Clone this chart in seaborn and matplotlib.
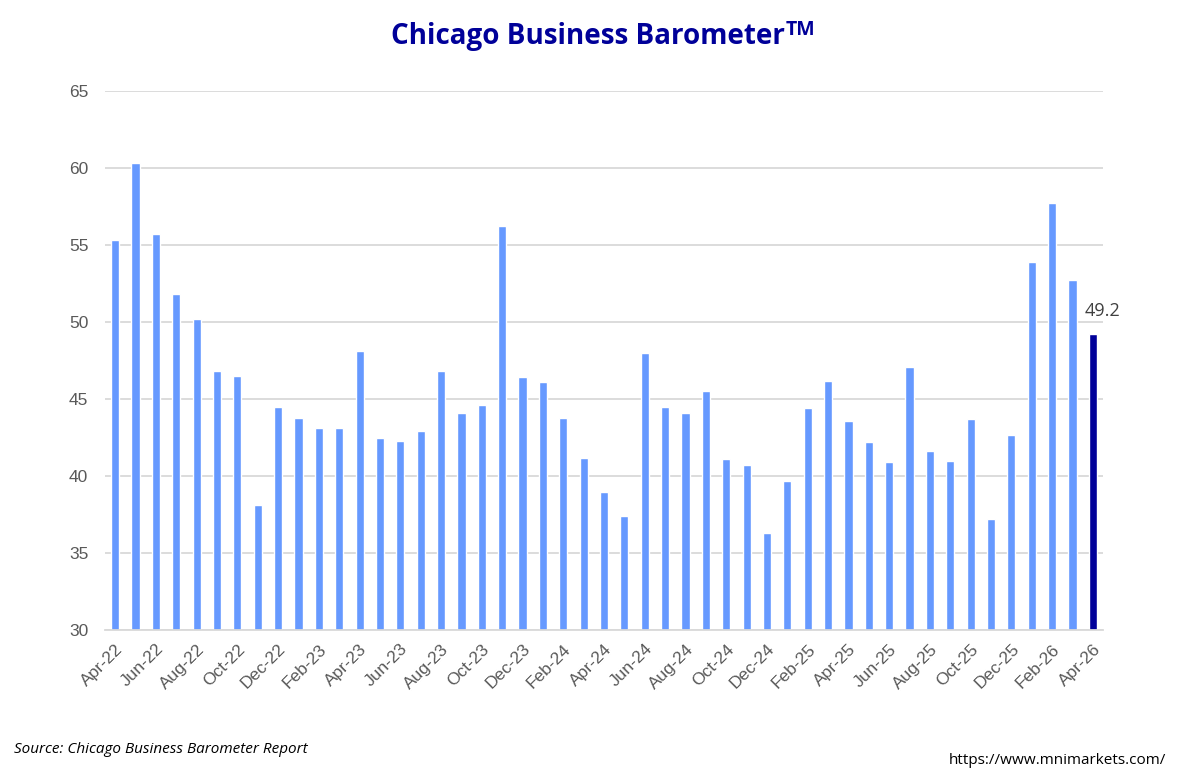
import numpy as np
import pandas as pd
import matplotlib
matplotlib.use('Agg')
import matplotlib.pyplot as plt
import seaborn as sns

# valores (Apr-22 .. Apr-26)
meses = pd.date_range('2022-04-01', '2026-04-01', freq='MS').strftime('%b-%y').tolist()
valores = [55.3, 60.3, 55.7, 51.8, 50.2, 46.8, 46.5, 38.1, 44.5,
           43.8, 43.1, 43.1, 48.1, 42.5, 42.3, 42.9, 46.8, 44.1, 44.6, 56.2, 46.4,
           46.1, 43.8, 41.2, 39.0, 37.4, 48.0, 44.5, 44.1, 45.5, 41.1, 40.7, 36.3,
           39.7, 44.4, 46.2, 43.6, 42.2, 40.9, 47.1, 41.6, 41.0, 43.7, 37.2, 42.7,
           53.9, 57.7, 52.7, 49.2]
ultimo = '49.2'

df = pd.DataFrame({'mes': meses, 'valor': valores})
colores = ['#6699FF'] * (len(meses) - 1) + ['#000099']

sns.set_style('white')
plt.rcParams['font.family'] = ['Liberation Sans', 'DejaVu Sans']

fig = plt.figure(figsize=(12, 7.82), dpi=100)
ax = fig.add_axes([0.0875, 0.194, 0.8317, 0.69])

sns.barplot(data=df, x='mes', y='valor', hue='mes', palette=colores,
            width=0.4, legend=False, ax=ax, saturation=1)

ax.set_ylim(30, 65)
ax.set_xlim(-0.5, len(meses) - 0.5)
ax.set_yticks(np.arange(30, 66, 5))
ax.yaxis.grid(True, color='#D9D9D9', linewidth=1.3)
ax.set_axisbelow(True)
ax.set_xlabel('')
ax.set_ylabel('')

pos = np.arange(0, len(meses), 2)
ax.set_xticks(pos)
ax.set_xticklabels([meses[i] for i in pos], rotation=45, ha='right',
                   rotation_mode='anchor', fontsize=12.5, color='#595959')
ax.set_xticks(np.arange(-0.5, len(meses), 2), minor=True)
ax.tick_params(axis='x', which='major', length=0, pad=8)
ax.tick_params(axis='x', which='minor', length=5, color='#D9D9D9', width=1.3)
ax.tick_params(axis='y', length=0, labelsize=12.5, labelcolor='#595959', pad=12)

for s in ['top', 'right', 'left']:
    ax.spines[s].set_visible(False)
ax.spines['bottom'].set_color('#D9D9D9')
ax.spines['bottom'].set_linewidth(1.3)

ax.text(len(meses) - 1 + 0.45, valores[-1] + 0.9, ultimo, ha='center', va='bottom',
        fontsize=13, color='#404040', family=['Open Sans', 'DejaVu Sans'])

# titulo con TM
t = fig.text(0.49, 0.953, 'Chicago Business Barometer', ha='center', va='center',
             fontsize=20, fontweight='bold', color='#000099',
             family=['Open Sans', 'DejaVu Sans'])
fig.canvas.draw()
bb = t.get_window_extent()
fig.text((bb.x1 + 1) / fig.bbox.width, (bb.y1 + 2) / fig.bbox.height, 'TM',
         ha='left', va='top', fontsize=14, fontweight='bold', color='#000099',
         family=['Open Sans', 'DejaVu Sans'])

fig.text(0.012, 0.042, 'Source: Chicago Business Barometer Report', ha='left', va='center',
         fontsize=11, style='italic', color='#000000', family=['Open Sans', 'DejaVu Sans'])
fig.text(0.972, 0.028, 'https://www.mnimarkets.com/', ha='right', va='center',
         fontsize=11, color='#000000', family=['Open Sans', 'DejaVu Sans'])

fig.savefig('out.png', dpi=100)
